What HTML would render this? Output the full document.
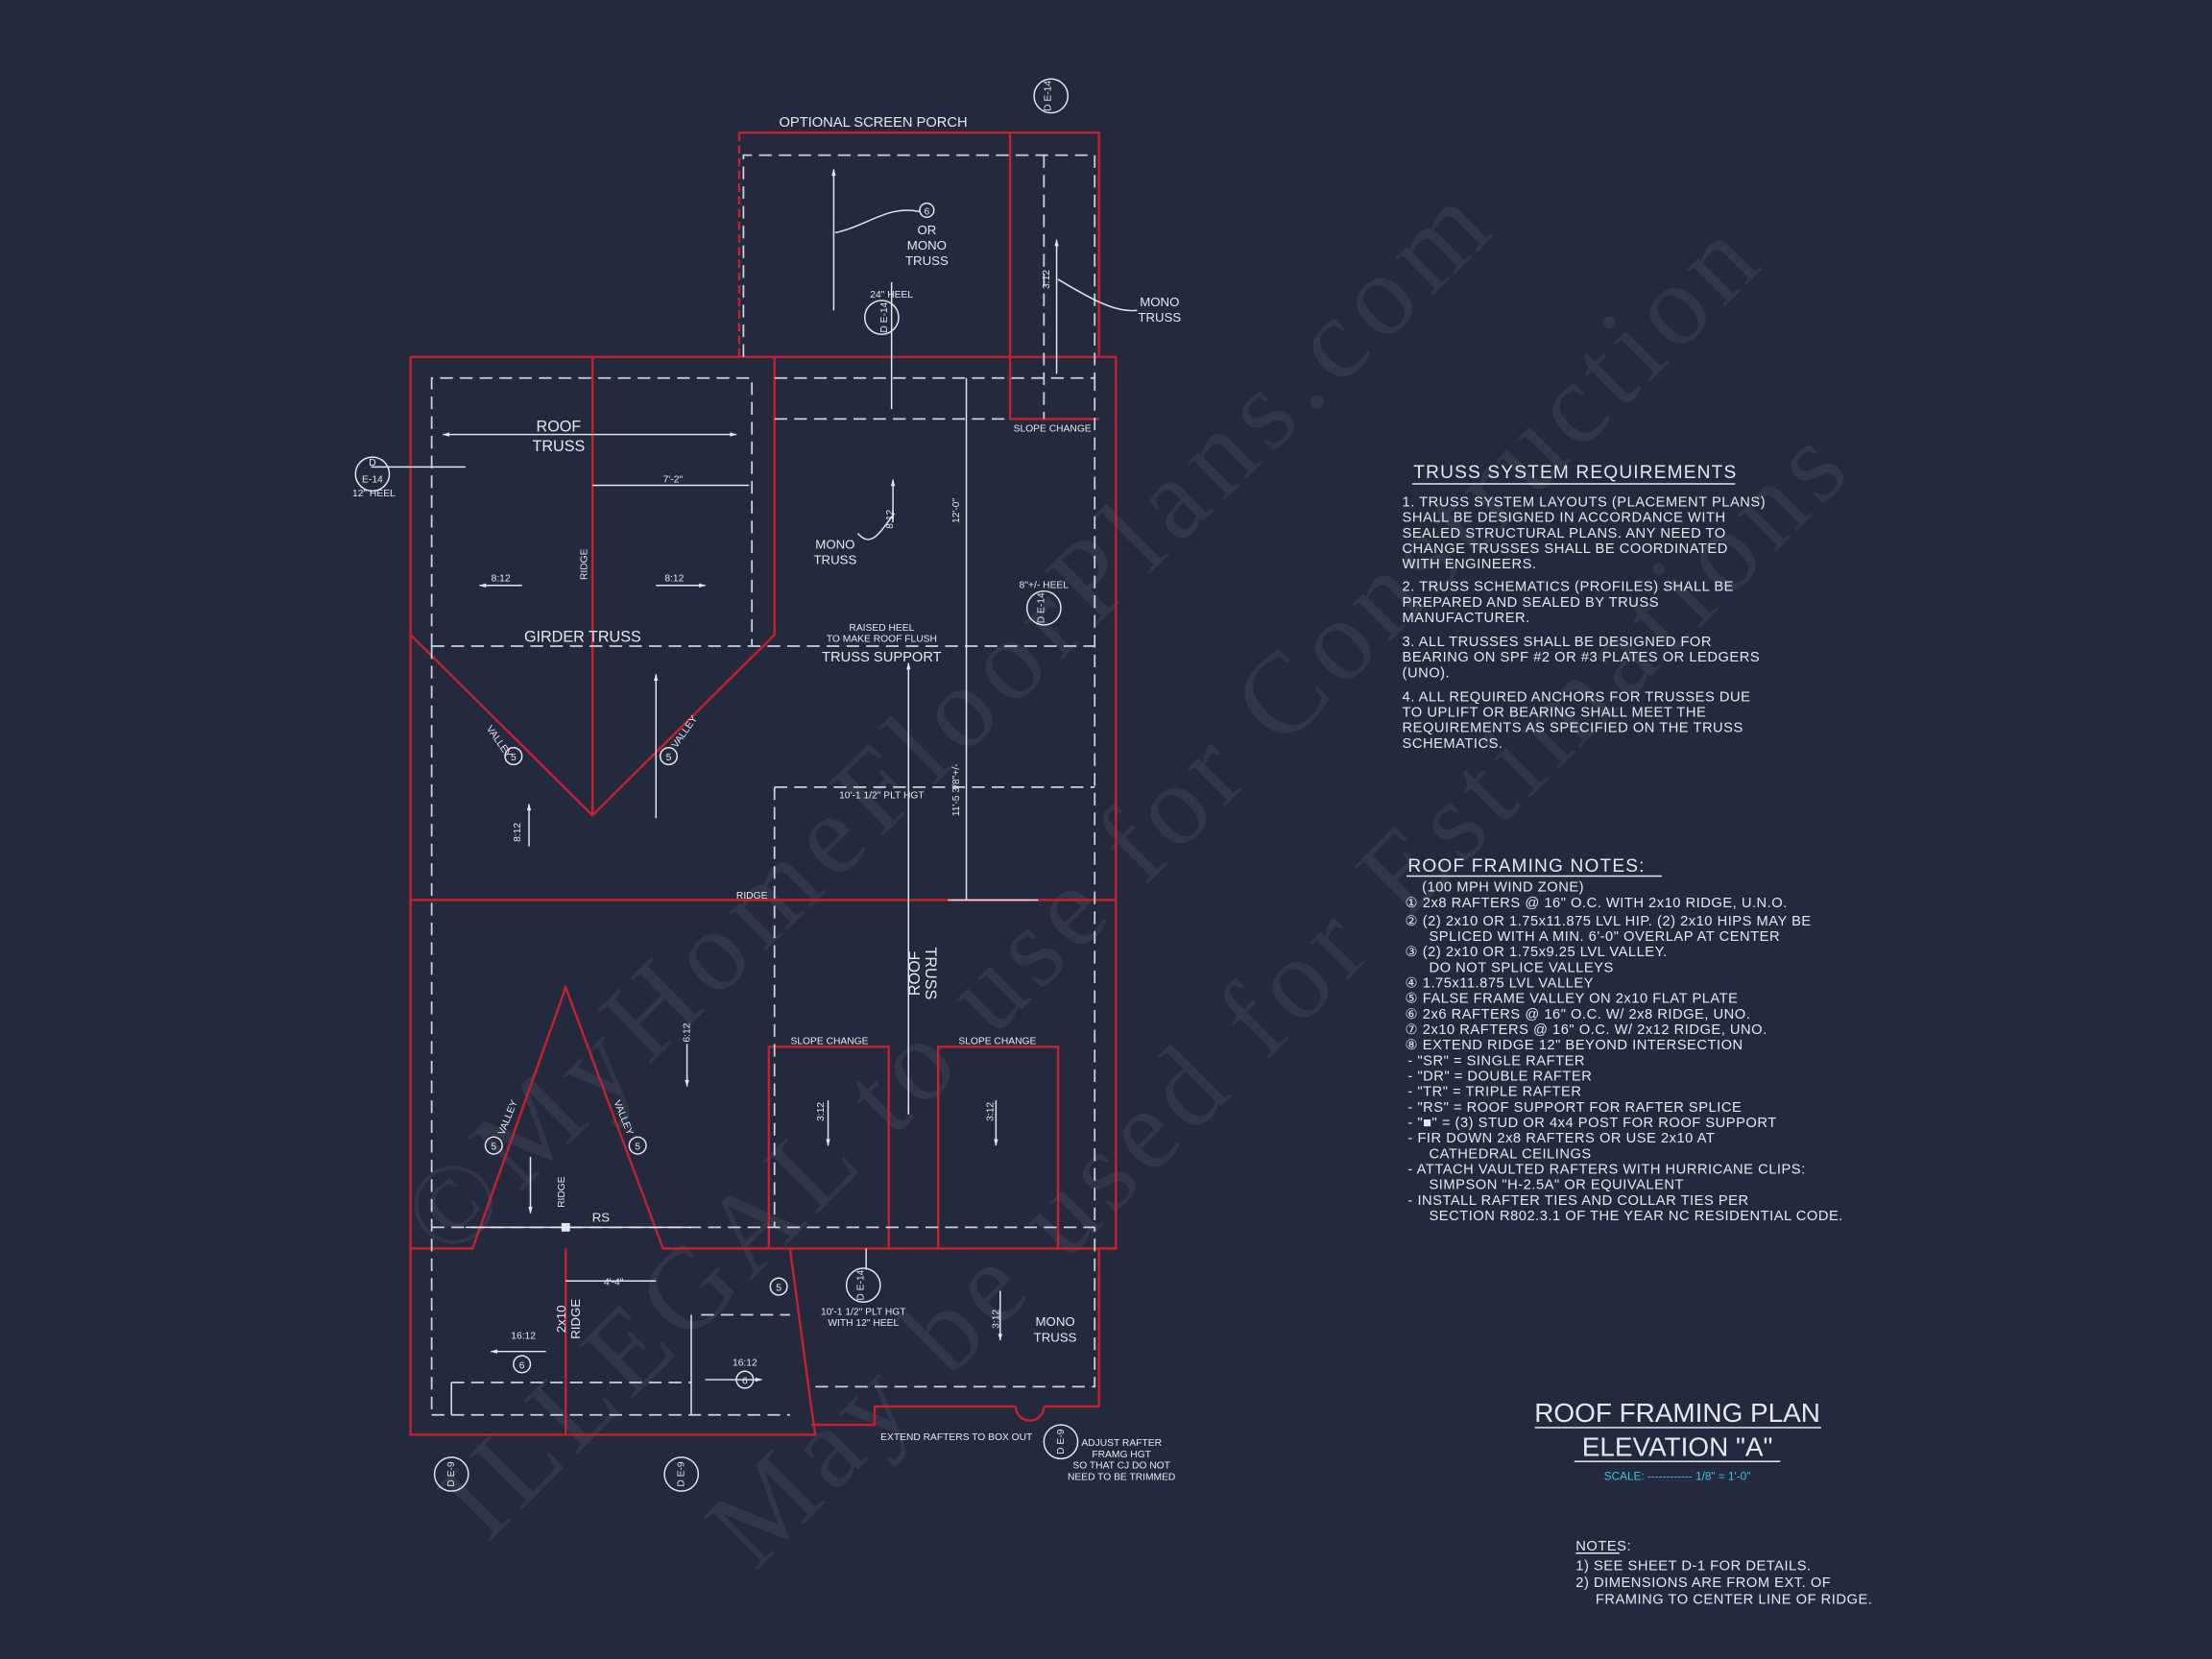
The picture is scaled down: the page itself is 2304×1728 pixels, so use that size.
<!DOCTYPE html>
<html><head><meta charset="utf-8"><style>
html,body{margin:0;padding:0;background:#232a3d;}
svg{display:block;}
text{font-family:"Liberation Sans",sans-serif;fill:#e6e8ee;}
.r{stroke:#c8202e;stroke-width:1.6;fill:none;}
.d{stroke:#cfd2da;stroke-width:1.2;fill:none;stroke-dasharray:9 5;}
.w{stroke:#e6e8ee;stroke-width:1;fill:none;}
.s{font-size:7px;}
.m{font-size:9px;}
.n{font-size:10px;letter-spacing:0.35px;}
.wm{font-family:"Liberation Serif",serif;fill:#3a4154;fill-opacity:0.55;}
</style></head><body>
<svg width="2304" height="1728" viewBox="0 0 1568 1176" xmlns="http://www.w3.org/2000/svg">
<rect width="1568" height="1176" fill="#232a3d"/>
<defs><marker id="a" viewBox="0 0 10 10" refX="9" refY="5" markerWidth="7" markerHeight="5" orient="auto-start-reverse"><path d="M0,2 L10,5 L0,8z" fill="#e6e8ee"/></marker></defs>
<!-- watermark -->
<text class="wm" font-size="82" transform="translate(318,895) rotate(-44.5)" textLength="1040">©MyHomeFloorPlans.com</text>
<text class="wm" font-size="82" transform="translate(345,1095) rotate(-45)" textLength="1280">ILLEGAL to use for Construction</text>
<text class="wm" font-size="82" transform="translate(535,1115) rotate(-45)" textLength="1100">May be used for Estimations</text>
<!-- red lines -->
<path class="r" d="M291,253 H791 V885 H779 V997 H740 M720,997 H620 V1010 H575 M575,997 L560,885"/>
<path class="r" d="M291,253 V1017 H578 L575,997"/>
<path class="r" d="M524,94 H779 V253 M716,94 V297 H779"/>
<path class="r" d="M524,94 V253" stroke-dasharray="6 3"/>
<path class="r" d="M420,253 V578 M549,253 V450 L420,578 L291,450"/>
<path class="r" d="M291,638 H791"/>
<path class="r" d="M291,885 H335 L401,700 L470,885 H791"/>
<path class="r" d="M545,885 V742 H630 V885 M665,885 V742 H750 V885"/>
<path class="r" d="M401,885 V1017"/>
<path class="r" d="M740,997 a10,10 0 0 1 -20,0"/>
<!-- dashed -->
<path class="d" d="M306,458 V268 H533 V458 M306,458 H776 M549,268 H776 M549,297 H716 M776,268 V870 M306,458 V1003 M549,558 H776 M549,558 V870 M306,870 H776 M527,253 V110 H776 V268 M740,110 V297"/>
<path class="d" d="M306,1003 H560 M578,983 H776 V870 M320,980 H490 M497,932 H560"/>
<path class="w" d="M320,980 V1003 M490,932 V1003"/>
<!-- dims & arrows -->
<line class="w" x1="314" y1="308" x2="522" y2="308" marker-start="url(#a)" marker-end="url(#a)"/>
<line class="w" x1="420" y1="344" x2="531" y2="344"/>
<line class="w" x1="685" y1="268" x2="685" y2="638"/>
<line class="w" x1="672" y1="638" x2="736" y2="638"/>
<line class="w" x1="644" y1="790" x2="644" y2="470" marker-end="url(#a)"/>
<line class="w" x1="591" y1="220" x2="591" y2="120" marker-end="url(#a)"/>
<line class="w" x1="749" y1="265" x2="749" y2="170" marker-end="url(#a)"/>
<line class="w" x1="632" y1="290" x2="632" y2="200"/>
<line class="w" x1="465" y1="580" x2="465" y2="478" marker-end="url(#a)"/>
<line class="w" x1="375" y1="600" x2="375" y2="570" marker-end="url(#a)"/>
<line class="w" x1="370" y1="415" x2="340" y2="415" marker-end="url(#a)"/>
<line class="w" x1="465" y1="415" x2="500" y2="415" marker-end="url(#a)"/>
<line class="w" x1="633" y1="370" x2="633" y2="340" marker-end="url(#a)"/>
<line class="w" x1="487" y1="740" x2="487" y2="770" marker-end="url(#a)"/>
<line class="w" x1="376" y1="820" x2="376" y2="860" marker-end="url(#a)"/>
<line class="w" x1="587" y1="780" x2="587" y2="812" marker-end="url(#a)"/>
<line class="w" x1="706" y1="780" x2="706" y2="812" marker-end="url(#a)"/>
<line class="w" x1="709" y1="915" x2="709" y2="950" marker-end="url(#a)"/>
<line class="w" x1="387" y1="958" x2="348" y2="958" marker-end="url(#a)"/>
<line class="w" x1="500" y1="978" x2="540" y2="978" marker-end="url(#a)"/>
<line class="w" x1="401" y1="908" x2="465" y2="908"/>
<line class="w" x1="614" y1="885" x2="614" y2="900"/>
<line class="w" x1="330" y1="870" x2="490" y2="870"/>
<rect x="398" y="867" width="6" height="6" fill="#e6e8ee"/>
<line class="w" x1="263" y1="331" x2="330" y2="331"/>
<path class="w" d="M652,150 C630,145 615,160 592,165"/>
<path class="w" d="M806,220 C790,222 770,210 750,198"/>
<path class="w" d="M608,378 C618,390 625,375 634,364"/>
<!-- circles -->
<g class="w">
<circle cx="264" cy="336" r="12"/><circle cx="625" cy="225" r="12"/><circle cx="745" cy="68" r="12"/>
<circle cx="740" cy="431" r="12"/><circle cx="612" cy="911" r="12"/><circle cx="752" cy="1022" r="12"/>
<circle cx="320" cy="1045" r="12"/><circle cx="483" cy="1045" r="12"/>
<circle cx="657" cy="149" r="5"/><circle cx="364" cy="536" r="6"/><circle cx="474" cy="536" r="6"/>
<circle cx="350" cy="812" r="6"/><circle cx="452" cy="812" r="6"/><circle cx="552" cy="912" r="6"/>
<circle cx="370" cy="967" r="6"/><circle cx="528" cy="978" r="6"/>
</g>
<g class="s" text-anchor="middle">
<text x="657" y="152" font-size="7">6</text><text x="364" y="539">5</text><text x="474" y="539">5</text>
<text x="350" y="815">5</text><text x="452" y="815">5</text><text x="552" y="915">5</text>
<text x="370" y="970">6</text><text x="528" y="981">6</text>
<text x="264" y="330">D</text><text x="264" y="342">E-14</text>
<text x="265" y="352">12" HEEL</text>
<text x="632" y="211">24" HEEL</text>
<text x="740" y="417">8"+/- HEEL</text>
</g>
<!-- labels -->
<g class="m" text-anchor="middle">
<text x="619" y="90" font-size="10">OPTIONAL SCREEN PORCH</text>
<text x="657" y="166">OR</text><text x="657" y="177">MONO</text><text x="657" y="188">TRUSS</text>
<text x="822" y="217">MONO</text><text x="822" y="228">TRUSS</text>
<text x="396" y="306" font-size="11">ROOF</text><text x="396" y="320" font-size="11">TRUSS</text>
<text x="477" y="342" class="s">7'-2"</text>
<text x="746" y="306" class="s">SLOPE CHANGE</text>
<text x="592" y="389">MONO</text><text x="592" y="400">TRUSS</text>
<text x="413" y="455" font-size="11">GIRDER TRUSS</text>
<text x="625" y="447" class="s">RAISED HEEL</text><text x="625" y="455" class="s">TO MAKE ROOF FLUSH</text>
<text x="625" y="469" font-size="10">TRUSS SUPPORT</text>
<text x="625" y="566" class="s">10'-1 1/2" PLT HGT</text>
<text x="533" y="637" class="s">RIDGE</text>
<text x="426" y="866" class="m">RS</text>
<text x="588" y="740" class="s">SLOPE CHANGE</text><text x="707" y="740" class="s">SLOPE CHANGE</text>
<text x="435" y="911" class="s">4'-4"</text>
<text x="612" y="932" class="s">10'-1 1/2" PLT HGT</text><text x="612" y="940" class="s">WITH 12" HEEL</text>
<text x="748" y="940">MONO</text><text x="748" y="951">TRUSS</text>
<text x="678" y="1021" class="s">EXTEND RAFTERS TO BOX OUT</text>
<text x="795" y="1025" class="s">ADJUST RAFTER</text><text x="795" y="1033" class="s">FRAMG HGT</text>
<text x="795" y="1041" class="s">SO THAT CJ DO NOT</text><text x="795" y="1049" class="s">NEED TO BE TRIMMED</text>
<text x="355" y="412" class="s">8:12</text><text x="478" y="412" class="s">8:12</text>
<text x="371" y="949" class="s">16:12</text><text x="528" y="968" class="s">16:12</text>
</g>
<g class="s" text-anchor="middle">
<text transform="translate(416,400) rotate(-90)">RIDGE</text>
<text transform="translate(680,362) rotate(-90)">12'-0"</text>
<text transform="translate(680,560) rotate(-90)">11'-5 3/8"+/-</text>
<text transform="translate(633,368) rotate(-90)">8:12</text>
<text transform="translate(744,198) rotate(-90)">3:12</text>
<text transform="translate(369,590) rotate(-90)">8:12</text>
<text transform="translate(489,732) rotate(-90)">6:12</text>
<text transform="translate(584,788) rotate(-90)">3:12</text>
<text transform="translate(704,788) rotate(-90)">3:12</text>
<text transform="translate(708,935) rotate(-90)">3:12</text>
<text transform="translate(400,845) rotate(-90)">RIDGE</text>
<text transform="translate(401,935) rotate(-90)" font-size="9">2x10</text>
<text transform="translate(411,935) rotate(-90)" font-size="9">RIDGE</text>
<text transform="translate(652,690) rotate(-90)" font-size="11">ROOF</text>
<text transform="translate(656,690) rotate(90)" font-size="11">TRUSS</text>
<text transform="translate(352,527) rotate(55)">VALLEY</text>
<text transform="translate(487,520) rotate(-55)">VALLEY</text>
<text transform="translate(362,793) rotate(-68)">VALLEY</text>
<text transform="translate(440,793) rotate(68)">VALLEY</text>
<text transform="translate(629,225) rotate(-90)">D  E-14</text>
<text transform="translate(745,68) rotate(-90)">D  E-14</text>
<text transform="translate(740,431) rotate(-90)">D  E-14</text>
<text transform="translate(612,911) rotate(-90)">D  E-14</text>
<text transform="translate(754,1022) rotate(-90)">D  E-9</text>
<text transform="translate(322,1045) rotate(-90)">D  E-9</text>
<text transform="translate(485,1045) rotate(-90)">D  E-9</text>
</g>
<!-- notes -->
<g class="n">
<text x="1002" y="339" font-size="13" letter-spacing="0.8">TRUSS SYSTEM REQUIREMENTS</text>
<line class="w" x1="1001" y1="343" x2="1230" y2="343"/>
<text x="994" y="359">1. TRUSS SYSTEM LAYOUTS (PLACEMENT PLANS)</text>
<text x="994" y="370">SHALL BE DESIGNED IN ACCORDANCE WITH</text>
<text x="994" y="381">SEALED STRUCTURAL PLANS. ANY NEED TO</text>
<text x="994" y="392">CHANGE TRUSSES SHALL BE COORDINATED</text>
<text x="994" y="403">WITH  ENGINEERS.</text>
<text x="994" y="419">2. TRUSS SCHEMATICS (PROFILES) SHALL BE</text>
<text x="994" y="430">PREPARED AND SEALED BY TRUSS</text>
<text x="994" y="441">MANUFACTURER.</text>
<text x="994" y="458">3. ALL TRUSSES SHALL BE DESIGNED FOR</text>
<text x="994" y="469">BEARING ON SPF #2 OR #3 PLATES OR LEDGERS</text>
<text x="994" y="480">(UNO).</text>
<text x="994" y="497">4. ALL REQUIRED ANCHORS FOR TRUSSES DUE</text>
<text x="994" y="508">TO UPLIFT OR BEARING SHALL MEET THE</text>
<text x="994" y="519">REQUIREMENTS AS SPECIFIED ON THE TRUSS</text>
<text x="994" y="530">SCHEMATICS.</text>
<text x="998" y="618" font-size="13" letter-spacing="0.8">ROOF FRAMING NOTES:</text>
<line class="w" x1="997" y1="621" x2="1178" y2="621"/>
<text x="1008" y="632">(100 MPH WIND ZONE)</text>
<text x="996" y="643">① 2x8 RAFTERS @ 16" O.C. WITH 2x10 RIDGE, U.N.O.</text>
<text x="996" y="656">② (2) 2x10 OR 1.75x11.875 LVL HIP. (2) 2x10 HIPS MAY BE</text>
<text x="1013" y="667">SPLICED WITH A MIN. 6'-0" OVERLAP AT CENTER</text>
<text x="996" y="678">③ (2) 2x10 OR 1.75x9.25 LVL VALLEY.</text>
<text x="1013" y="689">DO NOT SPLICE VALLEYS</text>
<text x="996" y="700">④ 1.75x11.875 LVL VALLEY</text>
<text x="996" y="711">⑤ FALSE FRAME VALLEY ON 2x10 FLAT PLATE</text>
<text x="996" y="722">⑥ 2x6 RAFTERS @ 16" O.C. W/ 2x8 RIDGE, UNO.</text>
<text x="996" y="733">⑦ 2x10 RAFTERS @ 16" O.C. W/ 2x12 RIDGE, UNO.</text>
<text x="996" y="744">⑧ EXTEND RIDGE 12" BEYOND INTERSECTION</text>
<text x="998" y="755">-  "SR" = SINGLE RAFTER</text>
<text x="998" y="766">-  "DR" = DOUBLE RAFTER</text>
<text x="998" y="777">-  "TR" = TRIPLE RAFTER</text>
<text x="998" y="788">-  "RS" = ROOF SUPPORT FOR RAFTER SPLICE</text>
<text x="998" y="799">-  "■" = (3) STUD OR 4x4 POST FOR ROOF SUPPORT</text>
<text x="998" y="810">-  FIR DOWN 2x8 RAFTERS OR USE 2x10 AT</text>
<text x="1013" y="821">CATHEDRAL CEILINGS</text>
<text x="998" y="832">-  ATTACH VAULTED RAFTERS WITH HURRICANE CLIPS:</text>
<text x="1013" y="843">SIMPSON "H-2.5A" OR EQUIVALENT</text>
<text x="998" y="854">-  INSTALL RAFTER TIES AND COLLAR TIES PER</text>
<text x="1013" y="865">SECTION R802.3.1 OF THE YEAR NC RESIDENTIAL CODE.</text>
</g>
<g text-anchor="middle">
<text x="1189" y="1008" font-size="19">ROOF FRAMING PLAN</text>
<line class="w" x1="1088" y1="1012" x2="1291" y2="1012"/>
<text x="1189" y="1032" font-size="19">ELEVATION "A"</text>
<line class="w" x1="1116" y1="1036" x2="1262" y2="1036"/>
<text x="1189" y="1049" font-size="8" style="fill:#38c8e0">SCALE: ------------ 1/8" = 1'-0"</text>
</g>
<g class="n" font-size="8.8" letter-spacing="0.2">
<text x="1117" y="1099">NOTES:</text>
<line class="w" x1="1117" y1="1101" x2="1148" y2="1101"/>
<text x="1117" y="1113">1) SEE SHEET D-1 FOR DETAILS.</text>
<text x="1117" y="1125">2) DIMENSIONS ARE FROM EXT. OF</text>
<text x="1131" y="1137">FRAMING TO CENTER LINE OF RIDGE.</text>
</g>
</svg>
</body></html>
